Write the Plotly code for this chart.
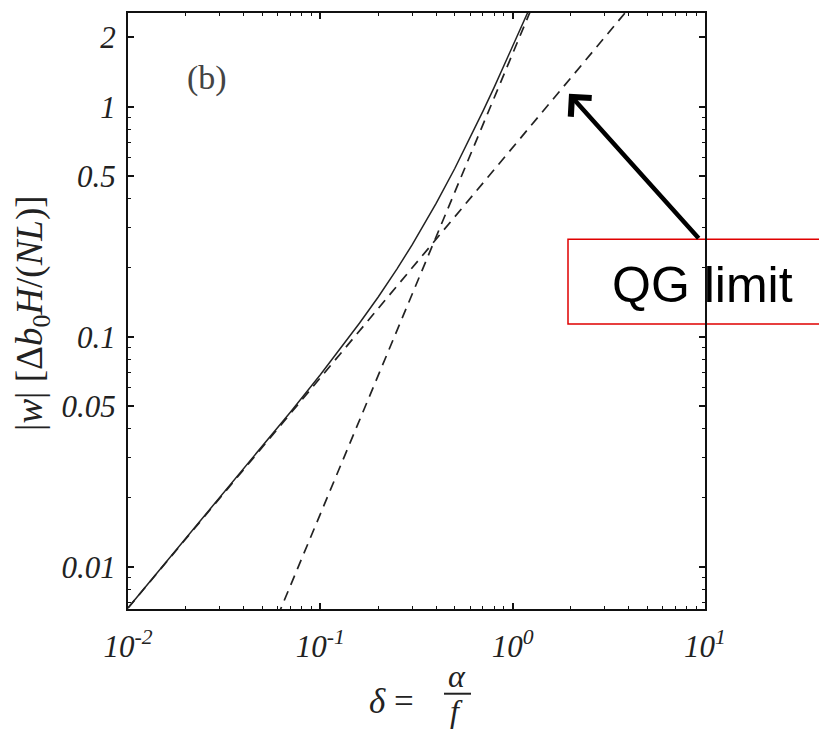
import plotly.graph_objects as go

# ---- data ----
delta_full = [0.01, 0.02, 0.03, 0.05, 0.07, 0.1, 0.13, 0.16, 0.2, 0.25, 0.3,
              0.35, 0.4, 0.5, 0.6, 0.7, 0.8, 0.9, 1.0, 1.1, 1.2, 1.25]
w_full = [0.00664, 0.0133, 0.0200, 0.0335, 0.0472, 0.0685, 0.0910, 0.115,
          0.149, 0.197, 0.251, 0.312, 0.380, 0.539, 0.730, 0.954, 1.21,
          1.50, 1.83, 2.18, 2.57, 2.78]

delta_qg = [0.01, 0.1, 1.0, 4.0]
w_qg = [0.00664, 0.0664, 0.664, 2.66]

delta_large = [0.06, 0.1, 0.5, 1.0, 1.25]
w_large = [0.00612, 0.017, 0.425, 1.70, 2.66]

x_tickvals = [0.01, 0.1, 1, 10]
x_ticktext = ["10<sup>-2</sup>", "10<sup>-1</sup>", "10<sup>0</sup>", "10<sup>1</sup>"]
y_tickvals = [0.01, 0.05, 0.1, 0.5, 1, 2]
y_ticktext = ["0.01", "0.05", "0.1", "0.5", "1", "2"]

x_minor = [m * 10 ** e for e in (-2, -1, 0) for m in range(2, 10)]
y_minor = [m * 10 ** e for e in (-3, -2, -1, 0) for m in range(2, 10)]
y_minor = [v for v in y_minor if v not in (0.05, 0.5, 2)]

LINE = "#222222"
SERIF = "Liberation Serif"

# page offset (body margin) compensation
OX, OY = 8, 8
W, H = 827 - OX, 731 - OY
PL, PR, PT, PB = 128, 705, 11, 609   # plot area in reference pixels
PW, PH = PR - PL, PB - PT


def px(xp):
    return (xp - PL) / PW


def py(yp):
    return (PB - yp) / PH


fig = go.Figure()
fig.add_trace(go.Scatter(x=delta_qg, y=w_qg, mode="lines",
                         line=dict(color=LINE, width=1.7, dash="10px,7px"),
                         showlegend=False))
fig.add_trace(go.Scatter(x=delta_large, y=w_large, mode="lines",
                         line=dict(color=LINE, width=1.7, dash="10px,7px"),
                         showlegend=False))
fig.add_trace(go.Scatter(x=delta_full, y=w_full, mode="lines",
                         line=dict(color=LINE, width=1.5),
                         showlegend=False))

axis_common = dict(
    showgrid=False, zeroline=False, showline=True, linecolor="#111",
    linewidth=2, mirror="allticks", ticks="inside", ticklen=6,
    tickwidth=1.5, tickcolor="#111",
    tickfont=dict(family=SERIF, size=31, color="#222", style="italic"),
)

fig.update_xaxes(type="log", range=[-2, 1], tickmode="array",
                 tickvals=x_tickvals, ticktext=x_ticktext,
                 ticklabelstandoff=9,
                 minor=dict(tickmode="array", tickvals=x_minor, ticks="inside",
                            ticklen=3, tickwidth=1.2, tickcolor="#111"),
                 **axis_common)
fig.update_yaxes(type="log", range=[-2.182, 0.407], tickmode="array",
                 tickvals=y_tickvals, ticktext=y_ticktext,
                 ticklabelstandoff=4,
                 minor=dict(tickmode="array", tickvals=y_minor, ticks="inside",
                            ticklen=3, tickwidth=1.2, tickcolor="#111"),
                 **axis_common)

C = dict(xref="paper", yref="paper", xanchor="center", yanchor="middle",
         showarrow=False)
annotations = [
    # panel label
    dict(text="(b)", x=px(207), y=py(76),
         font=dict(family=SERIF, size=34, color="#444"), **C),
    # y-axis title
    dict(text="|<i>w</i>| [Δ<i>b</i><sub>0</sub><i>H</i>/(<i>NL</i>)]",
         x=px(33), y=py(312), textangle=-90,
         font=dict(family=SERIF, size=37, color="#222"), **C),
    # x-axis title: delta = alpha / f
    dict(text="<i>δ</i> =", x=px(391), y=py(702),
         font=dict(family=SERIF, size=35, color="#222"), **C),
    dict(text="<i>α</i>", x=px(457), y=py(676),
         font=dict(family=SERIF, size=32, color="#222"), **C),
    dict(text="<i>f</i>", x=px(456), y=py(711),
         font=dict(family=SERIF, size=32, color="#222"), **C),
    # QG limit label
    dict(text="QG limit", x=px(702), y=py(284),
         font=dict(family="Liberation Sans", size=50, color="black"), **C),
]
# arrow
annotations.append(dict(text="", xref="paper", yref="paper",
                        x=px(569), y=py(92), ax=700 - 569, ay=238 - 92,
                        showarrow=True, arrowhead=4, arrowsize=1.2,
                        arrowwidth=4.5, arrowcolor="black"))

shapes = [
    dict(type="line", xref="paper", yref="paper",
         x0=px(444), x1=px(471), y0=py(694), y1=py(694),
         line=dict(color="#222", width=2)),
    dict(type="rect", xref="paper", yref="paper",
         x0=px(568), x1=px(840), y0=py(238), y1=py(323),
         line=dict(color="#e00000", width=1.5), fillcolor="white",
         layer="below"),
]

fig.update_layout(
    width=W, height=H,
    margin=dict(l=PL - OX, r=W - (PR - OX), t=PT - OY, b=H - (PB - OY)),
    paper_bgcolor="white", plot_bgcolor="rgba(0,0,0,0)",
    annotations=annotations, shapes=shapes, showlegend=False,
)

fig.write_html("out.html")
